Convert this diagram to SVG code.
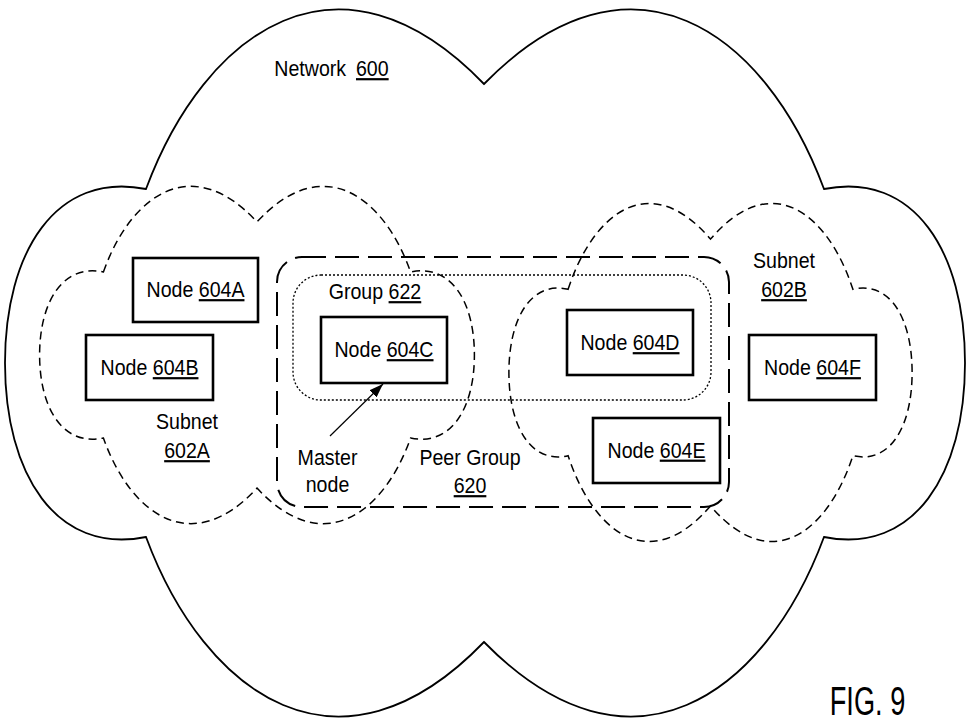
<svg xmlns="http://www.w3.org/2000/svg" width="967" height="723" viewBox="0 0 967 723">
<style>
.bg{fill:#fff}
.cloud{fill:#fff;stroke:#000;stroke-width:1.8;stroke-linejoin:miter}
.subnet{fill:none;stroke:#000;stroke-width:1.5;stroke-dasharray:8 5}
.peer{fill:none;stroke:#000;stroke-width:2;stroke-dasharray:24 9}
.grp{fill:none;stroke:#000;stroke-width:1.3;stroke-dasharray:2 2}
.node{fill:#fff;stroke:#000;stroke-width:2.6}
.t{font-family:"Liberation Sans",Arial,sans-serif;font-size:22px;text-anchor:middle;fill:#000}
.fig{font-family:"Liberation Sans",Arial,sans-serif;font-size:40px;text-anchor:middle;fill:#000}
.u{text-decoration:underline}
.conn{stroke:#000;stroke-width:1.2;fill:none}
</style>
<defs>
<marker id="arrow" viewBox="0 0 14 10" refX="14" refY="5" markerWidth="14" markerHeight="10" markerUnits="userSpaceOnUse" orient="auto">
<path d="M0,0 L14,5 L0,10 Z" fill="#000"/>
</marker>
</defs>
<rect class="bg" x="0" y="0" width="967" height="723"/>
<g id="network-600">
<path class="cloud" transform="translate(485,363)" d="M-339,-174 C-280,-333 -145,-428 -1,-279 C145,-428 280,-333 339,-174 C429,-192 480,-111 480,0 C480,111 429,192 339,174 C280,333 145,428 -1,279 C-145,428 -280,333 -339,174 C-429,192 -480,111 -480,0 C-480,-111 -429,-192 -339,-174 Z"/>
<text class="t" transform="translate(331.5,76) scale(0.89,1)">Network <tspan class="u" dx="5">600</tspan></text>
</g>
<g id="subnet-602A">
<path class="subnet" d="M103.4,272 C130.2,196.2 191.3,150.8 257,221.9 C322.7,150.8 383.8,196.2 410.6,272 C451.3,263.4 474.4,302.1 474.4,355 C474.4,407.9 451.3,446.6 410.6,438 C383.8,513.8 322.7,559.2 257,488.1 C191.3,559.2 130.2,513.8 103.4,438 C62.7,446.6 39.6,407.9 39.6,355 C39.6,302.1 62.7,263.4 103.4,272 Z"/>
<text class="t" transform="translate(187,429) scale(0.89,1)">Subnet</text>
<text class="t u" transform="translate(187,458) scale(0.89,1)">602A</text>
</g>
<g id="subnet-602B">
<path class="subnet" d="M568.1,289.3 C592.9,213.3 649.6,167.9 710.5,239.1 C771.4,167.9 828.1,213.3 852.9,289.3 C890.7,280.7 912.1,319.4 912.1,372.5 C912.1,425.6 890.7,464.3 852.9,455.7 C828.1,531.7 771.4,577.1 710.5,505.9 C649.6,577.1 592.9,531.7 568.1,455.7 C530.3,464.3 508.9,425.6 508.9,372.5 C508.9,319.4 530.3,280.7 568.1,289.3 Z"/>
<text class="t" transform="translate(784,268) scale(0.89,1)">Subnet</text>
<text class="t u" transform="translate(784,297) scale(0.89,1)">602B</text>
</g>
<g id="peer-group-620">
<rect class="peer" x="277" y="257" width="452" height="250" rx="25" ry="25"/>
<text class="t" transform="translate(470,465) scale(0.89,1)">Peer Group</text>
<text class="t u" transform="translate(470,493) scale(0.89,1)">620</text>
</g>
<g id="group-622">
<rect class="grp" x="293" y="275" width="418" height="125" rx="28" ry="28"/>
<text class="t" transform="translate(375,299) scale(0.89,1)">Group <tspan class="u">622</tspan></text>
</g>
<g id="node-604A">
<rect class="node" x="133" y="258" width="125" height="64"/>
<text class="t" transform="translate(195.5,297) scale(0.89,1)">Node <tspan class="u">604A</tspan></text>
</g>
<g id="node-604B">
<rect class="node" x="86" y="335" width="127" height="65"/>
<text class="t" transform="translate(149.5,375) scale(0.89,1)">Node <tspan class="u">604B</tspan></text>
</g>
<g id="node-604C">
<rect class="node" x="321" y="317" width="126" height="66"/>
<text class="t" transform="translate(384,357) scale(0.89,1)">Node <tspan class="u">604C</tspan></text>
</g>
<g id="node-604D">
<rect class="node" x="567" y="310" width="126" height="65"/>
<text class="t" transform="translate(630,350) scale(0.89,1)">Node <tspan class="u">604D</tspan></text>
</g>
<g id="node-604E">
<rect class="node" x="593" y="418" width="127" height="65"/>
<text class="t" transform="translate(656.5,457.5) scale(0.89,1)">Node <tspan class="u">604E</tspan></text>
</g>
<g id="node-604F">
<rect class="node" x="749" y="335" width="127" height="65"/>
<text class="t" transform="translate(812.5,375) scale(0.89,1)">Node <tspan class="u">604F</tspan></text>
</g>
<g id="master-node-label">
<text class="t" transform="translate(327.5,465) scale(0.89,1)">Master</text>
<text class="t" transform="translate(327.5,491.5) scale(0.89,1)">node</text>
</g>
<g id="connectors">
<line class="conn" x1="330" y1="436" x2="383" y2="384" marker-end="url(#arrow)"/>
</g>
<text class="fig" transform="translate(867.5,715) scale(0.68,1)">FIG. 9</text>
</svg>
